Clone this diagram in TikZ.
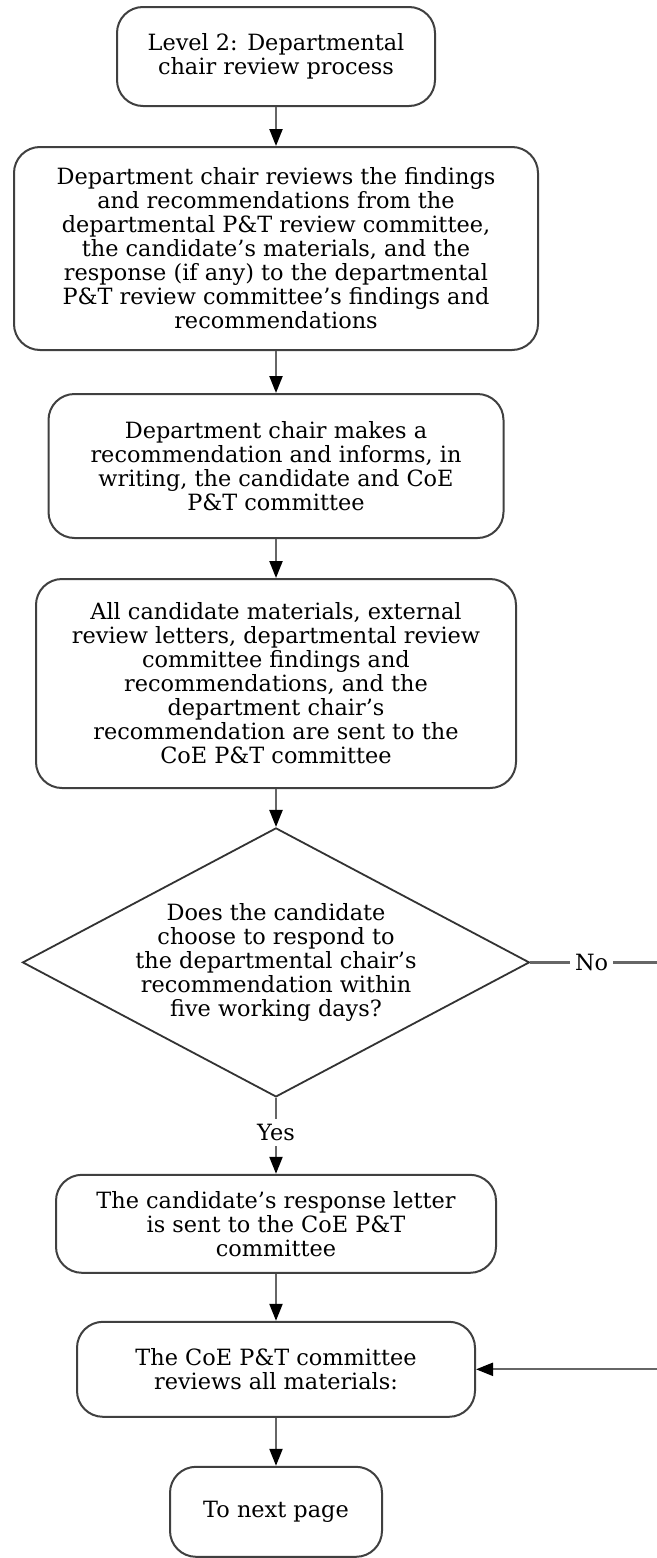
\documentclass[tikz,border=0pt]{standalone}
\usepackage{fontspec}
\setmainfont{DejaVu Serif}
\usetikzlibrary{shapes,arrows.meta,positioning}
\tikzstyle{block} = [draw=black!75, fill=white, rectangle, line width=1pt, rounded corners=13pt, align=center, inner sep=0pt, font=\fontsize{11.2}{12}\selectfont]
\tikzstyle{decision} = [draw=black!80, fill=white, diamond, aspect=1.885, line width=0.9pt, align=center, inner sep=0pt, font=\fontsize{11.2}{12}\selectfont]
\tikzstyle{line} = [draw=black!60, line width=1.1pt, -{Triangle[length=8.5pt,width=6.5pt,color=black]}]
\tikzstyle{lbl} = [fill=white, inner sep=2.5pt, font=\fontsize{11.2}{12}\selectfont]

\begin{document}
\begin{tikzpicture}[node distance=20pt]
  \useasboundingbox (0,0) rectangle (328.5pt,-779pt);
  \node [block, minimum width=159pt, minimum height=49.5pt] (lvl) at (138pt,-28.25pt) {Level 2: Departmental\\chair review process};
  \node [block, minimum width=262pt, minimum height=101.5pt, below=19.5pt of lvl] (review) {Department chair reviews the findings\\and recommendations from the\\departmental P\&T review committee,\\the candidate's materials, and the\\response (if any) to the departmental\\P\&T review committee's findings and\\recommendations};
  \node [block, minimum width=227.5pt, minimum height=72pt, below=21pt of review] (recom) {Department chair makes a\\recommendation and informs, in\\writing, the candidate and CoE\\P\&T committee};
  \node [block, minimum width=240pt, minimum height=104.5pt, below=19.5pt of recom] (sent) {All candidate materials, external\\review letters, departmental review\\committee findings and\\recommendations, and the\\department chair's\\recommendation are sent to the\\CoE P\&T committee};
  \node [decision, minimum width=253.5pt, minimum height=134.5pt, below=19pt of sent] (resp) {Does the candidate\\choose to respond to\\the departmental chair's\\recommendation within\\five working days?};
  \node [block, minimum width=220pt, minimum height=49pt, below=38pt of resp] (letter) {The candidate's response letter\\is sent to the CoE P\&T\\committee};
  \node [block, minimum width=199pt, minimum height=47.5pt, below=23.5pt of letter] (coe) {The CoE P\&T committee\\reviews all materials:};
  \node [block, minimum width=106pt, minimum height=45pt, below=24pt of coe] (next) {To next page};
  \coordinate (noturn) at ([xshift=85pt]resp.east);

  \draw [line] (lvl) -- (review);
  \draw [line] (review) -- (recom);
  \draw [line] (recom) -- (sent);
  \draw [line] (sent) -- (resp);
  \draw [line] (resp) -- node [lbl, pos=0.46] {Yes} (letter);
  \draw [line] (resp.east) -- node [lbl, pos=0.36] {No} (noturn) |- (coe.east);
  \draw [line] (letter) -- (coe);
  \draw [line] (coe) -- (next);
\end{tikzpicture}
\end{document}
